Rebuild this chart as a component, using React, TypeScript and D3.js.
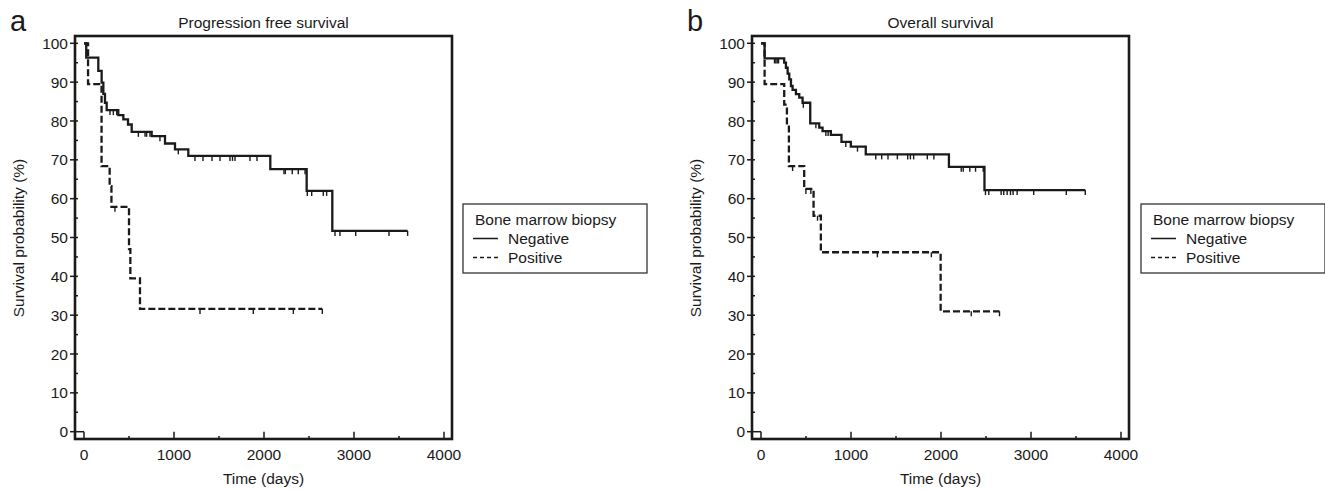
import React from 'react'
import * as d3 from 'd3'

// Kaplan-Meier steps: [day, survival %] after each drop, plus the censored days
const pfsNegSteps = [[0, 100], [25, 96.3], [159, 92.9], [196, 89.9], [215, 87.0], [233, 84.7], [252, 82.8], [381, 81.5], [437, 80.4], [489, 79.1], [530, 77.2], [752, 76.1], [900, 74.2], [1011, 72.7], [1159, 71.0], [2070, 67.6], [2474, 62.0], [2759, 51.7]]
const pfsNegEnd = 3596
const pfsNegCensored = [289, 326, 363, 604, 678, 696, 733, 844, 1048, 1233, 1322, 1422, 1511, 1622, 1650, 1678, 1844, 1922, 2222, 2237, 2314, 2381, 2456, 2481, 2530, 2659, 2696, 2789, 2844, 3019, 3389, 3596]

const pfsPosSteps = [[0, 100], [45, 89.5], [195, 68.4], [285, 63.2], [305, 57.9], [500, 47.0], [515, 39.5], [622, 31.6]]
const pfsPosEnd = 2648
const pfsPosCensored = [344, 1289, 1881, 2326, 2648]

const osNegSteps = [[0, 100], [40, 96.1], [258, 95.0], [277, 93.7], [296, 92.2], [314, 90.7], [333, 89.0], [351, 88.0], [388, 86.9], [425, 86.0], [462, 84.7], [547, 79.4], [647, 78.3], [684, 77.4], [776, 76.4], [894, 74.6], [998, 73.4], [1164, 71.4], [2088, 68.2], [2483, 62.2]]
const osNegEnd = 3603
const osNegCensored = [150, 165, 180, 195, 470, 610, 721, 746, 942, 1072, 1275, 1341, 1411, 1515, 1630, 1660, 1696, 1848, 1921, 2225, 2247, 2320, 2384, 2469, 2494, 2531, 2668, 2697, 2735, 2772, 2801, 2846, 3030, 3392, 3603]

const osPosSteps = [[0, 100], [40, 89.5], [258, 84.2], [288, 78.9], [310, 68.4], [480, 62.5], [584, 55.6], [665, 46.2], [1996, 31.0]]
const osPosEnd = 2650
const osPosCensored = [351, 499, 554, 628, 1293, 1893, 2336, 2650]

const xTicks = [0, 1000, 2000, 3000, 4000]
const xMinor = [500, 1500, 2500, 3500]
const yTicks = [0, 10, 20, 30, 40, 50, 60, 70, 80, 90, 100]
const yMinor = [5, 15, 25, 35, 45, 55, 65, 75, 85, 95]
const legendTitle = 'Bone marrow biopsy'
const groups = ['Negative', 'Positive']

const font = '"Liberation Sans", Arial, sans-serif'
const ink = '#1a1a1a'

function valueAt(steps, t) {
  let v = steps[0][1]
  steps.forEach(s => {
    if (s[0] <= t) v = s[1]
  })
  return v
}

function Curve({steps, end, censored, x, y, dash}) {
  const pts = steps.concat([[end, steps[steps.length - 1][1]]])
  const line = d3
    .line()
    .curve(d3.curveStepAfter)
    .x(d => x(d[0]))
    .y(d => y(d[1]))
  return (
    <g>
      <path d={line(pts)} fill="none" stroke={ink} strokeWidth={2.3} strokeDasharray={dash ? '7,3' : null} />
      {censored.map((c, i) => {
        const v = valueAt(steps, c)
        return <line key={i} x1={x(c)} x2={x(c)} y1={y(v)} y2={y(v) + 5} stroke={ink} strokeWidth={1.4} />
      })}
    </g>
  )
}

function KMPanel({dx, legendDx, letter, title, neg, pos}) {
  const x = d3.scaleLinear().domain([0, 4000]).range([84 + dx, 444 + dx])
  const y = d3.scaleLinear().domain([0, 100]).range([431.7, 43.3])
  const left = 75 + dx
  const right = 452 + dx
  const top = 36
  const bottom = 439
  const cx = (left + right) / 2
  const lx = 463 + dx + legendDx

  return (
    <g fontFamily={font} fill={ink}>
      <text x={10 + dx} y={31} fontSize={29}>{letter}</text>
      <text x={cx} y={27.5} fontSize={15.5} textAnchor="middle">{title}</text>

      {/* y axis ticks */}
      {yTicks.map(t => (
        <g key={'y' + t}>
          <line x1={left - 5} x2={t === 0 ? x(0) : left + 3} y1={y(t)} y2={y(t)} stroke={ink} strokeWidth={1.5} />
          <text x={left - 7} y={y(t)} dy="0.36em" fontSize={15.5} textAnchor="end">{t}</text>
        </g>
      ))}
      {yMinor.map(t => (
        <line key={'ym' + t} x1={left} x2={left + 3} y1={y(t)} y2={y(t)} stroke={ink} strokeWidth={1.5} />
      ))}

      {/* x axis ticks */}
      {xTicks.map(t => (
        <g key={'x' + t}>
          <line x1={x(t)} x2={x(t)} y1={bottom} y2={y(0)} stroke={ink} strokeWidth={1.5} />
          <text x={x(t)} y={460} fontSize={15.5} textAnchor="middle">{t}</text>
        </g>
      ))}
      {xMinor.map(t => (
        <line key={'xm' + t} x1={x(t)} x2={x(t)} y1={bottom} y2={bottom - 3} stroke={ink} strokeWidth={1.5} />
      ))}

      <Curve steps={neg.steps} end={neg.end} censored={neg.censored} x={x} y={y} dash={false} />
      <Curve steps={pos.steps} end={pos.end} censored={pos.censored} x={x} y={y} dash={true} />

      <rect x={left} y={top} width={right - left} height={bottom - top} fill="none" stroke={ink} strokeWidth={2.6} />

      <text x={cx} y={484} fontSize={15.5} textAnchor="middle">Time (days)</text>
      <text transform={`translate(${24 + dx},238) rotate(-90)`} fontSize={15.5} textAnchor="middle">
        Survival probability (%)
      </text>

      {/* legend */}
      <rect x={lx} y={204} width={184} height={69} fill="none" stroke="#333" strokeWidth={1.3} />
      <text x={lx + 12} y={225} fontSize={15.5}>{legendTitle}</text>
      <line x1={lx + 10} x2={lx + 35} y1={238.5} y2={238.5} stroke={ink} strokeWidth={1.5} />
      <text x={lx + 45} y={244} fontSize={15.5}>{groups[0]}</text>
      <line x1={lx + 10} x2={lx + 35} y1={257.5} y2={257.5} stroke={ink} strokeWidth={1.5} strokeDasharray="4,3" />
      <text x={lx + 45} y={263} fontSize={15.5}>{groups[1]}</text>
    </g>
  )
}

export default function App() {
  return (
    <svg width={1325} height={490} style={{position: 'absolute', left: 0, top: 0, background: '#fff'}}>
      <rect width={1325} height={490} fill="#fff" />
      <KMPanel
        dx={0}
        legendDx={0}
        letter="a"
        title="Progression free survival"
        neg={{steps: pfsNegSteps, end: pfsNegEnd, censored: pfsNegCensored}}
        pos={{steps: pfsPosSteps, end: pfsPosEnd, censored: pfsPosCensored}}
      />
      <KMPanel
        dx={677}
        legendDx={1}
        letter="b"
        title="Overall survival"
        neg={{steps: osNegSteps, end: osNegEnd, censored: osNegCensored}}
        pos={{steps: osPosSteps, end: osPosEnd, censored: osPosCensored}}
      />
    </svg>
  )
}
